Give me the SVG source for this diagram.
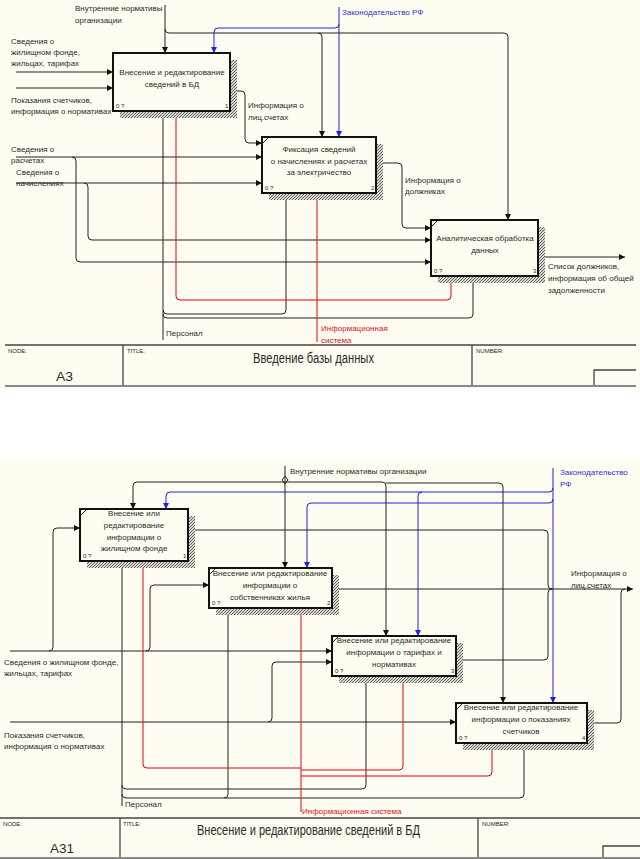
<svg xmlns="http://www.w3.org/2000/svg" width="640" height="859" viewBox="0 0 640 859">
<style>
text{font-family:"Liberation Sans",Arial,sans-serif;font-size:8px;fill:#2a2a2a}
.c{text-anchor:middle}
.s{font-size:6px}
.blue{fill:#3030d0}
.red{fill:#e81020}
.box{fill:#fffcf1;stroke:#111;stroke-width:2}
.sh{fill:url(#hatch);stroke:none}
.ln{fill:none;stroke:#222;stroke-width:1}
.lb{fill:none;stroke:#2020d8;stroke-width:1}
.lr{fill:none;stroke:#e80010;stroke-width:1}
.fr{stroke:#444;stroke-width:1.3;fill:none}
.frb{stroke:#888;stroke-width:2;fill:none}
.big{font-size:14px}
.node{font-size:13px}
</style>
<defs>
<pattern id="hatch" width="3" height="3" patternUnits="userSpaceOnUse">
<rect width="3" height="3" fill="#d8d8d0"/>
<path d="M0,3 L3,0" stroke="#555" stroke-width="0.9"/>
</pattern>
<marker id="ab" viewBox="0 0 10 10" refX="10" refY="5" markerWidth="7" markerHeight="6" markerUnits="userSpaceOnUse" orient="auto"><path d="M0,0 L10,5 L0,10 z" fill="#111"/></marker>
<marker id="abl" viewBox="0 0 10 10" refX="10" refY="5" markerWidth="7" markerHeight="6" markerUnits="userSpaceOnUse" orient="auto"><path d="M0,0 L10,5 L0,10 z" fill="#2020e0"/></marker>
<marker id="ar" viewBox="0 0 10 10" refX="10" refY="5" markerWidth="7" markerHeight="6" markerUnits="userSpaceOnUse" orient="auto"><path d="M0,0 L10,5 L0,10 z" fill="#f01020"/></marker>
</defs>

<rect x="0" y="0" width="640" height="859" fill="#ffffff"/>
<rect x="0" y="0" width="640" height="388" fill="#fffcf1"/>
<rect x="0" y="460" width="640" height="399" fill="#fffcf1"/>

<!-- ===== Top diagram A3 ===== -->
<g id="connectors-top">
<path class="ln" d="M16,72 H113" marker-end="url(#ab)"/>
<path class="ln" d="M16,88 H113" marker-end="url(#ab)"/>
<path class="ln" d="M165,5 V53" marker-end="url(#ab)"/>
<path class="ln" d="M165,29 Q165,33 169,33 H504 Q508,33 508,37 V220" marker-end="url(#ab)"/>
<path class="ln" d="M318,33 Q322,33 322,37 V137" marker-end="url(#ab)"/>
<path class="lb" d="M339,7 V137" marker-end="url(#abl)"/>
<path class="lb" d="M339,24 Q339,28 335,28 H218 Q214,28 214,32 V53" marker-end="url(#abl)"/>
<path class="ln" d="M230,91 H241 Q245,91 245,95 V139 Q245,143 249,143 H262" marker-end="url(#ab)"/>
<path class="ln" d="M376,163 H398 Q402,163 402,167 V224 Q402,228 406,228 H431" marker-end="url(#ab)"/>
<path class="ln" d="M16,157 H262" marker-end="url(#ab)"/>
<path class="ln" d="M72,157 Q76,157 76,161 V258 Q76,262 80,262 H431" marker-end="url(#ab)"/>
<path class="ln" d="M16,183 H262" marker-end="url(#ab)"/>
<path class="ln" d="M84,183 Q88,183 88,187 V236 Q88,240 92,240 H431" marker-end="url(#ab)"/>
<path class="ln" d="M538,257 H625" marker-end="url(#ab)"/>
<path class="ln" d="M163,340 V111" marker-end="url(#ab)"/>
<path class="ln" d="M163,314 Q163,318 167,318 H469 Q473,318 473,314 V276" marker-end="url(#ab)"/>
<path class="ln" d="M163,310 Q163,314 167,314 H282 Q286,314 286,310 V193" marker-end="url(#ab)"/>
<path class="lr" d="M317,342 V193" marker-end="url(#ar)"/>
<path class="lr" d="M317,300 H180 Q176,300 176,296 V111" marker-end="url(#ar)"/>
<path class="lr" d="M317,300 H447 Q451,300 451,296 V276" marker-end="url(#ar)"/>
<text x="75" y="11">Внутренние нормативы</text>
<text x="75" y="23">организации</text>
<text x="342" y="15" class="blue">Законодательство РФ</text>
<text x="11" y="44">Сведения о</text>
<text x="11" y="55">жилищном фонде,</text>
<text x="11" y="66">жильцах, тарифах</text>
<text x="11" y="103">Показания счетчиков,</text>
<text x="11" y="114">информация о нормативах</text>
<text x="248" y="108">Информация о</text>
<text x="248" y="120">лиц.счетах</text>
<text x="11" y="152">Сведения о</text>
<text x="11" y="163">расчетах</text>
<text x="16" y="175">Сведения о</text>
<text x="16" y="186">начислениях</text>
<text x="405" y="183">Информация о</text>
<text x="405" y="194">должниках</text>
<text x="548" y="269">Список должников,</text>
<text x="548" y="281">информация об общей</text>
<text x="548" y="293">задолженности</text>
<text x="166" y="336">Персонал</text>
<text x="321" y="331" class="red">Информационная</text>
<text x="321" y="343" class="red">система</text>
</g>

<g id="A3-1">
<rect class="sh" x="230" y="60" width="7" height="58"/>
<rect class="sh" x="120" y="111" width="117" height="7"/>
<rect class="box" x="113" y="53" width="117" height="58"/>
<text class="c" x="172" y="75">Внесение и редактирование</text>
<text class="c" x="172" y="87">сведений в БД</text>
<text class="s" x="116" y="108">0 ?</text>
<text class="s" x="225" y="108">1</text>
</g>
<g id="A3-2">
<rect class="sh" x="376" y="144" width="7" height="56"/>
<rect class="sh" x="269" y="193" width="114" height="7"/>
<rect class="box" x="262" y="137" width="114" height="56"/>
<path class="ln" d="M263,143 L268,138"/>
<text class="c" x="319" y="152">Фиксация сведений</text>
<text class="c" x="319" y="164">о начислениях и расчетах</text>
<text class="c" x="319" y="175">за электричество</text>
<text class="s" x="265" y="190">0 ?</text>
<text class="s" x="371" y="190">2</text>
</g>
<g id="A3-3">
<rect class="sh" x="538" y="227" width="7" height="56"/>
<rect class="sh" x="438" y="276" width="107" height="7"/>
<rect class="box" x="431" y="220" width="107" height="56"/>
<path class="ln" d="M432,226 L437,221"/>
<text class="c" x="485" y="241">Аналитическая обработка</text>
<text class="c" x="485" y="253">данных</text>
<text class="s" x="434" y="273">0 ?</text>
<text class="s" x="533" y="273">3</text>
</g>

<g id="frame-top">
<path class="fr" d="M5,345 H636 M123,345 V386 M472,345 V386 M594,386 V370 H636"/>
<path class="frb" d="M5,386 H636"/>
<text class="s" x="8" y="353">NODE:</text>
<text class="node" x="56" y="381" textLength="17" lengthAdjust="spacingAndGlyphs">A3</text>
<text class="s" x="127" y="353">TITLE:</text>
<text class="big" x="253" y="363" textLength="121" lengthAdjust="spacingAndGlyphs">Введение базы данных</text>
<text class="s" x="476" y="353">NUMBER:</text>
</g>

<!-- ===== Bottom diagram A31 ===== -->
<g id="connectors-bottom">
<path class="ln" d="M285,466 V568" marker-end="url(#ab)"/>
<path class="ln" d="M285,482 H137 Q133,482 133,486 V509" marker-end="url(#ab)"/>
<path class="ln" d="M285,482 H382 Q386,482 386,486 V636" marker-end="url(#ab)"/>
<path class="ln" d="M386,483 H499 Q503,483 503,487 V703" marker-end="url(#ab)"/>
<path class="ln" d="M282,480 L285,476 L288,480 L285,484 z"/>
<path class="lb" d="M553,468 V703" marker-end="url(#abl)"/>
<path class="lb" d="M553,488 Q553,492 549,492 H170 Q166,492 166,496 V509" marker-end="url(#abl)"/>
<path class="lb" d="M422,492 Q418,492 418,496 V636" marker-end="url(#abl)"/>
<path class="lb" d="M553,499 Q553,503 549,503 H311 Q307,503 307,507 V568" marker-end="url(#abl)"/>
<path class="ln" d="M332,589 H633" marker-end="url(#ab)"/>
<path class="ln" d="M188,530 H544 Q548,530 548,534 V585 Q548,589 552,589"/>
<path class="ln" d="M456,660 H544 Q548,660 548,656 V593 Q548,589 552,589"/>
<path class="ln" d="M587,723 H617 Q621,723 621,719 V593 Q621,589 625,589"/>
<path class="ln" d="M10,651 H332" marker-end="url(#ab)"/>
<path class="ln" d="M49,651 Q53,651 53,647 V532 Q53,528 57,528 H80" marker-end="url(#ab)"/>
<path class="ln" d="M146,651 Q150,651 150,647 V589 Q150,585 154,585 H209" marker-end="url(#ab)"/>
<path class="ln" d="M10,722 H456" marker-end="url(#ab)"/>
<path class="ln" d="M268,722 Q272,722 272,718 V666 Q272,662 276,662 H332" marker-end="url(#ab)"/>
<path class="ln" d="M122,806 V561" marker-end="url(#ab)"/>
<path class="ln" d="M122,785 Q122,789 126,789 H362 Q366,789 366,785 V676" marker-end="url(#ab)"/>
<path class="ln" d="M122,794 Q122,798 126,798 H520 Q524,798 524,794 V743" marker-end="url(#ab)"/>
<path class="ln" d="M224,798 Q228,798 228,794 V608" marker-end="url(#ab)"/>
<path class="lr" d="M301,812 V608" marker-end="url(#ar)"/>
<path class="lr" d="M301,768 H147 Q143,768 143,764 V561" marker-end="url(#ar)"/>
<path class="lr" d="M301,770 H399 Q403,770 403,766 V676" marker-end="url(#ar)"/>
<path class="lr" d="M301,776 H488 Q492,776 492,772 V743" marker-end="url(#ar)"/>
<text x="290" y="474">Внутренние нормативы организации</text>
<text x="560" y="475" class="blue">Законодательство</text>
<text x="560" y="487" class="blue">РФ</text>
<text x="571" y="576">Информация о</text>
<text x="571" y="588">лиц.счетах</text>
<text x="4" y="665">Сведения о жилищном фонде,</text>
<text x="4" y="676">жильцах, тарифах</text>
<text x="4" y="738">Показания счетчиков,</text>
<text x="4" y="749">информация о нормативах</text>
<text x="125" y="807">Персонал</text>
<text x="302" y="814" class="red">Информационная система</text>
</g>

<g id="A31-1">
<rect class="sh" x="188" y="516" width="7" height="52"/>
<rect class="sh" x="87" y="561" width="108" height="7"/>
<rect class="box" x="80" y="509" width="108" height="52"/>
<path class="ln" d="M81,515 L86,510"/>
<text class="c" x="134" y="516">Внесение или</text>
<text class="c" x="134" y="528">редактирование</text>
<text class="c" x="134" y="540">информации о</text>
<text class="c" x="134" y="551">жилищном фонде</text>
<text class="s" x="83" y="558">0 ?</text>
<text class="s" x="183" y="558">1</text>
</g>
<g id="A31-2">
<rect class="sh" x="332" y="575" width="7" height="40"/>
<rect class="sh" x="216" y="608" width="123" height="7"/>
<rect class="box" x="209" y="568" width="123" height="40"/>
<path class="ln" d="M210,574 L215,569"/>
<text class="c" x="270" y="576">Внесение или редактирование</text>
<text class="c" x="270" y="588">информации о</text>
<text class="c" x="270" y="600">собственниках жилья</text>
<text class="s" x="212" y="605">0 ?</text>
<text class="s" x="327" y="605">2</text>
</g>
<g id="A31-3">
<rect class="sh" x="456" y="643" width="7" height="40"/>
<rect class="sh" x="339" y="676" width="124" height="7"/>
<rect class="box" x="332" y="636" width="124" height="40"/>
<path class="ln" d="M333,642 L338,637"/>
<text class="c" x="394" y="643">Внесение или редактирование</text>
<text class="c" x="394" y="655">информации о тарифах и</text>
<text class="c" x="394" y="667">нормативах</text>
<text class="s" x="335" y="673">0 ?</text>
<text class="s" x="451" y="673">3</text>
</g>
<g id="A31-4">
<rect class="sh" x="587" y="710" width="7" height="40"/>
<rect class="sh" x="463" y="743" width="131" height="7"/>
<rect class="box" x="456" y="703" width="131" height="40"/>
<path class="ln" d="M457,709 L462,704"/>
<text class="c" x="521" y="710">Внесение или редактирование</text>
<text class="c" x="521" y="722">информации о показаниях</text>
<text class="c" x="521" y="734">счетчиков</text>
<text class="s" x="459" y="740">0 ?</text>
<text class="s" x="582" y="740">4</text>
</g>

<g id="frame-bottom">
<path class="fr" d="M0,818 H640 M120,818 V858 M478,818 V858 M603,858 V846 H640"/>
<path class="frb" d="M0,858 H640"/>
<text class="s" x="3" y="826">NODE:</text>
<text class="node" x="50" y="853" textLength="24" lengthAdjust="spacingAndGlyphs">A31</text>
<text class="s" x="123" y="826">TITLE:</text>
<text class="big" x="197" y="835" textLength="223" lengthAdjust="spacingAndGlyphs">Внесение и редактирование сведений в БД</text>
<text class="s" x="482" y="826">NUMBER:</text>
</g>
</svg>
